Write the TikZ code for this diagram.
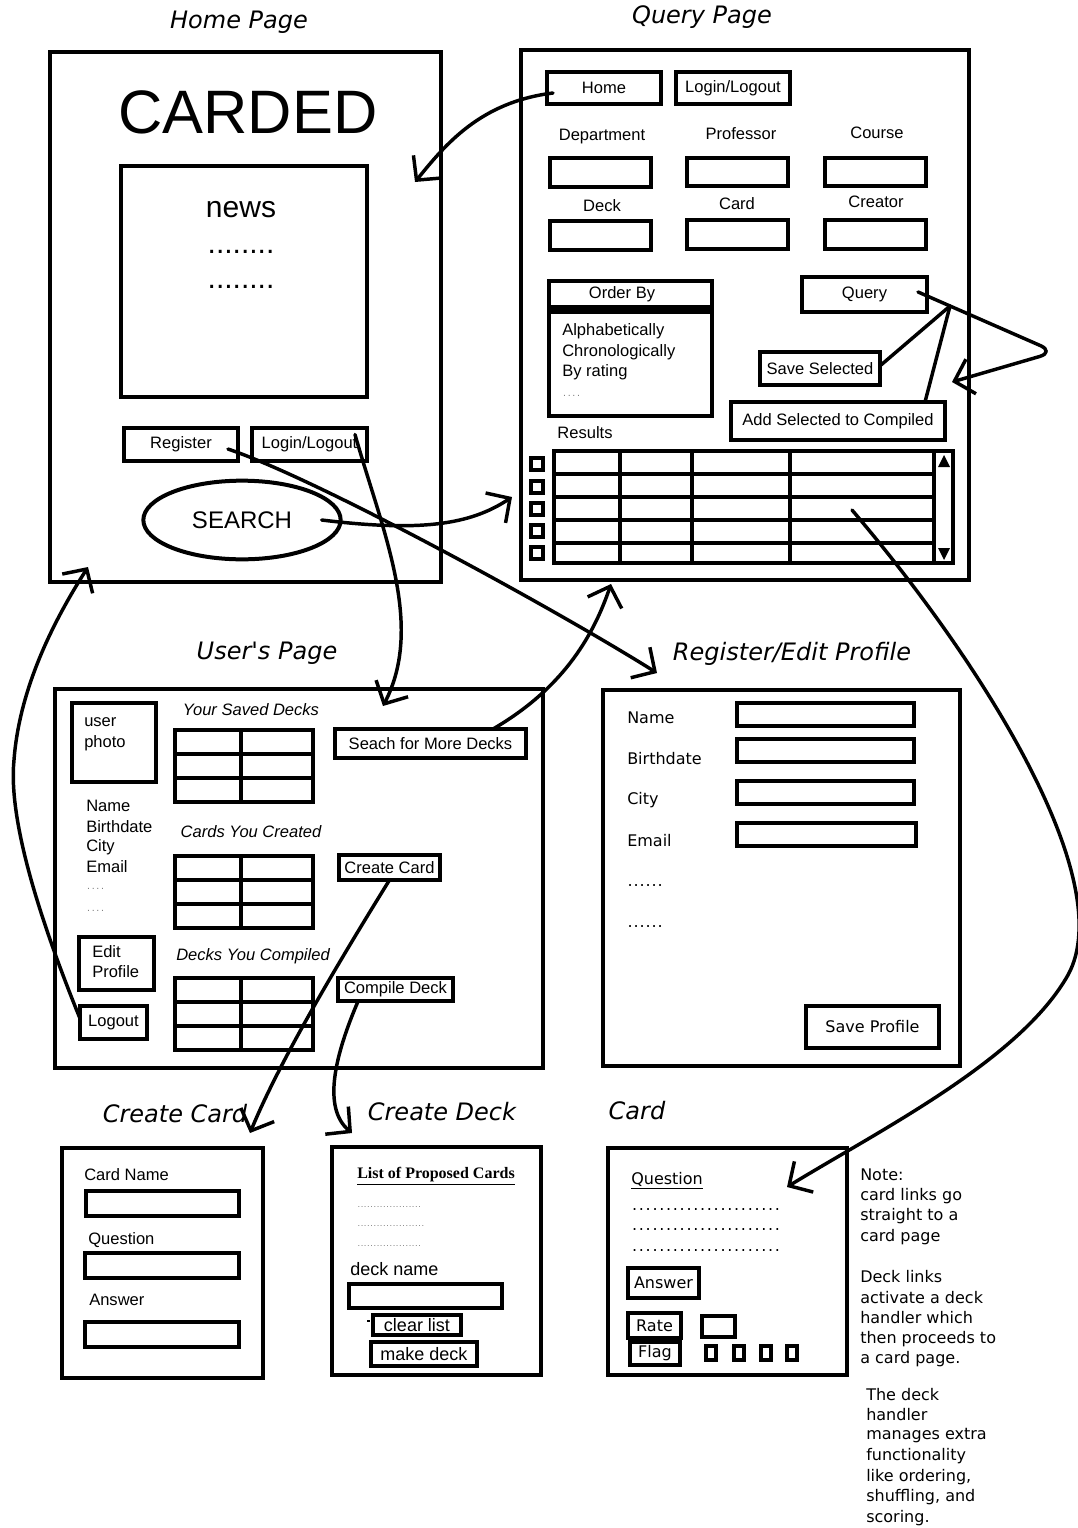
\documentclass[tikz,border=0pt]{standalone}
\usepackage{fontspec}
\setmainfont{Liberation Sans}
\newfontfamily\dv{DejaVu Sans}
\newfontfamily\srf{Liberation Serif}
\usetikzlibrary{arrows.meta,calc,shapes.geometric}
\newcommand\fs[2]{\fontsize{#1pt}{#2pt}\selectfont}
\newcommand\dotrow[2]{\hbox to #1{\leaders\hbox to #2{\hss.\hss}\hfill}}
\newcommand\wb[7][]{%
  \pgfmathsetmacro\wbx{(#3+#5)/2}%
  \pgfmathsetmacro\wby{(#4+#6)/2}%
  \pgfmathsetmacro\wbw{(#5-#3)*0.75}%
  \pgfmathsetmacro\wbh{(#6-#4)*0.75}%
  \node[bx,minimum width=\wbw pt,minimum height=\wbh pt,#1] (#2) at (\wbx,\wby) {#7};}
\newcommand\tbl[1]{%
  \draw[gridln] (175,#1) rectangle (313,#1+72);
  \draw[gridln] (241,#1) -- (241,#1+72);
  \draw[gridln] (175,#1+24) -- (313,#1+24);
  \draw[gridln] (175,#1+48) -- (313,#1+48);}
\tikzset{
  bx/.style={draw, line width=3pt, inner sep=0pt, outer sep=0pt, font=\fs{12.4}{15}},
  txt/.style={inner sep=0pt, font=\fs{12.4}{15}},
  itx/.style={inner sep=0pt, font=\itshape\fs{12.4}{15}},
  dtx/.style={inner sep=0pt, font=\dv\fs{12}{15}},
  ttl/.style={inner sep=0pt, font=\dv\itshape\fs{18}{21}},
  sdot/.style={inner sep=0pt, text=gray, font=\fs{8}{9}},
  ln/.style={line width=2.6pt, line cap=round, line join=round},
  arr/.style={ln, -{Straight Barb[length=13pt,width=27pt]}},
  gridln/.style={line width=3pt},
  chk/.style={line width=2.5pt}
}
\begin{document}
\begin{tikzpicture}[x=0.75pt,y=-0.75pt]
\useasboundingbox (0,0) rectangle (1078,1528);
\fill[white] (0,0) rectangle (1078,1528);

% ================= Home Page =================
\node[ttl] (tHome) at (239,22) {Home Page};
\wb{home}{50}{52}{441}{582}{}
\node[inner sep=0pt,font=\fs{46}{50}] (carded) at (248,112) {CARDED};
\wb{news}{121}{166}{367}{397}{}
\node[inner sep=0pt,font=\fs{22.5}{26}] (newsT) at (241,210) {news};
\node[inner sep=0pt,font=\fs{22.5}{26}] (nd1) at (241,252) {........};
\node[inner sep=0pt,font=\fs{22.5}{26}] (nd2) at (241,287) {........};
\wb{reg}{124}{428}{238}{461}{Register}
\wb{hlogin}{252}{428}{367}{461}{Login/Logout}
\node[draw,ellipse,line width=3pt,minimum width=148pt,minimum height=59pt,inner sep=0pt,font=\fs{18}{21}] (search) at (242,520) {SEARCH};

% ================= Query Page =================
\node[ttl] (tQuery) at (702,17) {Query Page};
\wb{qpage}{521}{50}{969}{580}{}
\wb{qhome}{547}{72}{661}{104}{Home}
\wb{qlogin}{676}{72}{790}{104}{Login/Logout}
\node[txt] (lDep) at (602,137) {Department};
\node[txt] (lProf) at (741,134) {Professor};
\node[txt] (lCourse) at (877,133) {Course};
\wb{fDep}{550}{158}{651}{187}{}
\wb{fProf}{687}{158}{788}{186}{}
\wb{fCourse}{825}{158}{926}{186}{}
\node[txt] (lDeck) at (602,206) {Deck};
\node[txt] (lCard) at (737,204) {Card};
\node[txt] (lCreator) at (876,202) {Creator};
\wb{fDeck}{550}{221}{651}{250}{}
\wb{fCard}{687}{220}{788}{249}{}
\wb{fCreator}{825}{220}{926}{249}{}
\wb{orderby}{549}{281}{712}{416}{}
\fill (549,305) rectangle (712,314);
\node[txt] (lOrder) at (622,294) {Order By};
\node[txt,anchor=west] (o1) at (562,331) {Alphabetically};
\node[txt,anchor=west] (o2) at (562,352) {Chronologically};
\node[txt,anchor=west] (o3) at (562,372) {By rating};
\node[sdot,anchor=west] (o4) at (562,396) {\dotrow{14pt}{3.5pt}};
\wb{query}{802}{277}{927}{312}{Query}
\wb{savesel}{760}{352}{880}{385}{Save Selected}
\wb{addsel}{731}{402}{945}{440}{Add Selected to Compiled}
\node[txt] (lRes) at (585,433) {Results};
% results table
\draw[gridln] (554,451) rectangle (953,563);
\foreach \xx in {620,692,790,934} \draw[gridln] (\xx,451) -- (\xx,563);
\foreach \yy in {474,497,520,543} \draw[gridln] (554,\yy) -- (934,\yy);
\fill (944,455) -- (938,467) -- (950,467) -- cycle;
\fill (944,560) -- (938,548) -- (950,548) -- cycle;
\foreach \yy in {464,487,509,531,553} \draw[chk] (531,\yy-6) rectangle (543,\yy+6);

% ================= User's Page =================
\node[ttl] (tUser) at (267,653) {User's Page};
\wb{upage}{55}{689}{543}{1068}{}
\wb{photo}{72}{703}{156}{782}{}
\node[txt,anchor=west] (ph1) at (84,722) {user};
\node[txt,anchor=west] (ph2) at (84,743) {photo};
\node[itx] (lSaved) at (251,710) {Your Saved Decks};
\tbl{730}
\wb{sfmd}{335}{729}{526}{758}{Seach for More Decks}
\node[txt,anchor=west] (u1) at (86,806) {Name};
\node[txt,anchor=west] (u2) at (86,827) {Birthdate};
\node[txt,anchor=west] (u3) at (86,847) {City};
\node[txt,anchor=west] (u4) at (86,867) {Email};
\node[sdot,anchor=west] (u5) at (86,889) {\dotrow{14pt}{3.5pt}};
\node[sdot,anchor=west] (u6) at (86,911) {\dotrow{14pt}{3.5pt}};
\node[itx] (lCreated) at (251,832) {Cards You Created};
\tbl{856}
\wb{ccard}{339}{855}{440}{880}{Create Card}
\wb{edit}{79}{937}{154}{990}{}
\node[txt,anchor=west] (e1) at (92,952) {Edit};
\node[txt,anchor=west] (e2) at (92,972) {Profile};
\node[itx] (lCompiled) at (253,956) {Decks You Compiled};
\tbl{978}
\wb{cdeck}{338}{978}{453}{1001}{Compile Deck}
\wb{logout}{80}{1006}{147}{1039}{Logout}

% ================= Register/Edit Profile =================
\node[ttl] (tReg) at (792,654) {Register/Edit Profile};
\wb{rpage}{603}{690}{960}{1066}{}
\node[dtx,anchor=west] (r1) at (627,718) {Name};
\node[dtx,anchor=west] (r2) at (627,759) {Birthdate};
\node[dtx,anchor=west] (r3) at (627,800) {City};
\node[dtx,anchor=west] (r4) at (627,841) {Email};
\node[dtx,anchor=west] (r5) at (627,885) {\dotrow{27pt}{4.5pt}};
\node[dtx,anchor=west] (r6) at (627,926) {\dotrow{27pt}{4.5pt}};
\wb{fName}{737}{703}{914}{726}{}
\wb{fBirth}{737}{739}{914}{762}{}
\wb{fCity}{737}{781}{914}{804}{}
\wb{fEmail}{737}{823}{916}{846}{}
\wb[font=\dv\fs{12}{15}]{saveprof}{806}{1006}{939}{1048}{Save Profile}

% ================= Create Card =================
\node[ttl] (tCC) at (175,1114) {Create Card};
\wb{ccpage}{62}{1148}{263}{1378}{}
\node[txt,anchor=west] (c1) at (84,1175) {Card Name};
\wb{fcName}{86}{1191}{239}{1216}{}
\node[txt,anchor=west] (c2) at (88,1240) {Question};
\wb{fcQ}{85}{1253}{239}{1278}{}
\node[txt,anchor=west] (c3) at (89,1300) {Answer};
\wb{fcA}{85}{1322}{239}{1347}{}

% ================= Create Deck =================
\node[ttl] (tCD) at (442,1112) {Create Deck};
\wb{cdpage}{332}{1147}{541}{1375}{}
\node[inner sep=0pt,font=\srf\bfseries\fs{12}{14}] (lList) at (436,1176) {\underline{List of Proposed Cards}};
\node[sdot,anchor=west,font=\fs{7}{8}] (d1) at (357,1207) {\dotrow{48pt}{2.4pt}};
\node[sdot,anchor=west,font=\fs{7}{8}] (d2) at (357,1226) {\dotrow{52pt}{2.4pt}};
\node[sdot,anchor=west,font=\fs{7}{8}] (d3) at (357,1246) {\dotrow{49pt}{2.4pt}};
\node[txt,anchor=west,font=\fs{13.5}{16}] (lDname) at (350,1269) {deck name};
\wb{fDname}{349}{1284}{502}{1308}{}
\fill (367,1320) rectangle (370,1322);
\wb[font=\fs{13.5}{16}]{clear}{373}{1315}{461}{1335}{clear list}
\wb[font=\fs{13.5}{16}]{make}{371}{1342}{477}{1366}{make deck}

% ================= Card =================
\node[ttl] (tCard) at (637,1111) {Card};
\wb{cpage}{608}{1148}{847}{1375}{}
\node[dtx,anchor=west] (q1) at (631,1181) {\underline{Question}};
\node[dtx,anchor=west] (q2) at (631,1209) {\dotrow{113pt}{5.1pt}};
\node[dtx,anchor=west] (q3) at (631,1229) {\dotrow{113pt}{5.1pt}};
\node[dtx,anchor=west] (q4) at (631,1250) {\dotrow{113pt}{5.1pt}};
\wb[font=\dv\fs{12}{15}]{ans}{628}{1268}{699}{1298}{Answer}
\wb[font=\dv\fs{12}{15}]{rate}{628}{1313}{681}{1338}{Rate}
\wb{rbox}{702}{1316}{735}{1337}{}
\wb[font=\dv\fs{12}{15}]{flag}{630}{1342}{680}{1365}{Flag}
\foreach \xx in {711,739,766,792} \draw[chk] (\xx-5,1346) rectangle (\xx+5,1360);

% ================= Note =================
\node[dtx,anchor=west] (n1) at (860,1175) {Note:};
\node[dtx,anchor=west] (n2) at (860,1196) {card links go};
\node[dtx,anchor=west] (n3) at (860,1216) {straight to a};
\node[dtx,anchor=west] (n4) at (860,1237) {card page};
\node[dtx,anchor=west] (n5) at (860,1277) {Deck links};
\node[dtx,anchor=west] (n6) at (860,1298) {activate a deck};
\node[dtx,anchor=west] (n7) at (860,1318) {handler which};
\node[dtx,anchor=west] (n8) at (860,1339) {then proceeds to};
\node[dtx,anchor=west] (n9) at (860,1359) {a card page.};
\node[dtx,anchor=west] (n10) at (866,1395) {The deck};
\node[dtx,anchor=west] (n11) at (866,1415) {handler};
\node[dtx,anchor=west] (n12) at (866,1436) {manages extra};
\node[dtx,anchor=west] (n13) at (866,1456) {functionality};
\node[dtx,anchor=west] (n14) at (866,1477) {like ordering,};
\node[dtx,anchor=west] (n15) at (866,1497) {shuffling, and};
\node[dtx,anchor=west] (n16) at (866,1518) {scoring.};

% ================= Connectors =================
\coordinate (homeIn) at (415,182);
\draw[arr] ([xshift=4.5pt,yshift=-3.75pt]qhome.west) .. controls (480,102) and (445,145) .. (homeIn);

\coordinate (qloop) at (1055,352);
\coordinate (qback) at (952,382);
\draw[arr,rounded corners=12pt] ([xshift=-6.75pt,yshift=1.9pt]query.east) -- (qloop) -- (qback);
\coordinate (jn) at (950,306);
\draw[ln] (jn) -- ([yshift=2pt]savesel.east);
\draw[ln] (jn) -- ([xshift=-15pt]addsel.north east);

\coordinate (upIn) at (383,706);
\draw[arr] ([xshift=-9pt,yshift=7.5pt]hlogin.east) .. controls (382,530) and (425,625) .. (upIn);

\coordinate (rpIn) at (657,673);
\draw[arr] ([xshift=-7.5pt,yshift=-3.4pt]reg.east) .. controls (320,480) and (560,612) .. (rpIn);

\coordinate (resIn) at (512,497);
\draw[arr] ([xshift=-15.75pt]search.east) .. controls (420,532) and (470,525) .. (resIn);

\coordinate (qpIn) at (611,584);
\draw[arr] ([xshift=-24.75pt]sfmd.north east) .. controls (560,690) and (592,640) .. (qpIn);

\coordinate (hpIn) at (88,567);
\draw[arr] ([yshift=3pt]logout.west) .. controls (40,920) and (8,820) .. (14,760) .. controls (20,680) and (62,608) .. (hpIn);

\coordinate (ccIn) at (250,1133);
\draw[arr] (ccard.south) .. controls (340,960) and (280,1060) .. (ccIn);

\coordinate (cdIn) at (352,1133);
\draw[arr] ([xshift=-28pt]cdeck.south) .. controls (335,1055) and (322,1108) .. (cdIn);

\coordinate (resOut) at (852,510);
\coordinate (cardIn) at (787,1187);
\draw[arr] (resOut) .. controls (980,660) and (1120,880) .. (1068,975) .. controls (1020,1060) and (880,1130) .. (cardIn);
\end{tikzpicture}
\end{document}
